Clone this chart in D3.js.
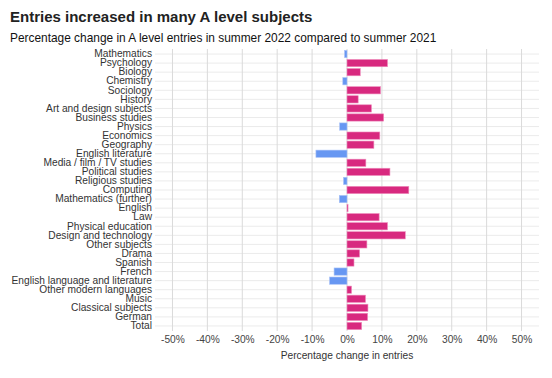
<!DOCTYPE html>
<html>
<head>
<meta charset="utf-8">
<script src="https://cdn.jsdelivr.net/npm/d3@7"></script>
<style>
  body { margin: 0; background: #fff; }
  text { font-family: "Liberation Sans", Arial, sans-serif; }
</style>
</head>
<body>
<div id="chart"></div>
<script>
const width = 552;
const height = 378;

// subjects, top to bottom
const subjects = [
  "Mathematics", "Psychology", "Biology", "Chemistry", "Sociology", "History",
  "Art and design subjects", "Business studies", "Physics", "Economics",
  "Geography", "English literature", "Media / film / TV studies",
  "Political studies", "Religious studies", "Computing",
  "Mathematics (further)", "English", "Law", "Physical education",
  "Design and technology", "Other subjects", "Drama", "Spanish", "French",
  "English language and literature", "Other modern languages", "Music",
  "Classical subjects", "German", "Total"
];

// percentage change 2021 -> 2022
const change = [
  -0.7, 11.6, 3.8, -1.2, 9.6, 3.2,
  7.0, 10.5, -2.1, 9.4,
  7.7, -8.9, 5.4,
  12.3, -1.0, 17.7,
  -2.2, 0.3, 9.2, 11.6,
  16.7, 5.7, 3.6, 2.0, -3.7,
  -5.0, 1.3, 5.3,
  6.0, 5.9, 4.2
];

const tickValues = [-50, -40, -30, -20, -10, 0, 10, 20, 30, 40, 50];

const data = subjects.map((s, i) => ({ subject: s, value: change[i] }));

const svg = d3
  .select("#chart")
  .append("svg")
  .attr("width", width)
  .attr("height", height);

const panel = { left: 155, right: 539, top: 49, bottom: 331 };

const x = d3.scaleLinear().domain([-55, 55]).range([panel.left, panel.right]);
const y = d3
  .scaleBand()
  .domain(subjects)
  .range([panel.top + 0.5, panel.bottom - 0.5])
  .paddingInner(0.2)
  .paddingOuter(0.1);

// title + subtitle
svg.append("text")
  .attr("x", 10).attr("y", 22)
  .style("font-size", "15px").style("font-weight", "bold")
  .style("fill", "#222")
  .text("Entries increased in many A level subjects");

svg.append("text")
  .attr("x", 10).attr("y", 42)
  .style("font-size", "11.9px")
  .style("fill", "#111")
  .text("Percentage change in A level entries in summer 2022 compared to summer 2021");

// grid
const grid = svg.append("g");
grid.selectAll(".hgrid")
  .data(subjects)
  .join("line")
  .attr("x1", panel.left).attr("x2", panel.right)
  .attr("y1", (d) => y(d) + y.bandwidth() / 2)
  .attr("y2", (d) => y(d) + y.bandwidth() / 2)
  .attr("stroke", "#ebebeb").attr("stroke-width", 1);

grid.selectAll(".vgrid")
  .data(tickValues)
  .join("line")
  .attr("x1", (d) => x(d)).attr("x2", (d) => x(d))
  .attr("y1", panel.top).attr("y2", panel.bottom)
  .attr("stroke", "#dadada").attr("stroke-width", 1);

// bars
svg.append("g")
  .selectAll("rect")
  .data(data)
  .join("rect")
  .attr("x", (d) => x(Math.min(0, d.value)))
  .attr("width", (d) => Math.abs(x(d.value) - x(0)))
  .attr("y", (d) => y(d.subject))
  .attr("height", y.bandwidth())
  .attr("fill", (d) => (d.value < 0 ? "#6797f2" : "#d8297f"))
  .attr("stroke", (d) => (d.value < 0 ? "#a9c2f7" : "#ee8cbc"))
  .attr("stroke-width", 0.6);

// category labels
const yAxis = svg.append("g")
  .attr("transform", `translate(${panel.left},0)`)
  .call(d3.axisLeft(y).tickSize(0).tickPadding(3));
yAxis.select(".domain").remove();
yAxis.selectAll("text")
  .style("font-size", "10.2px")
  .style("fill", "#333");

// x axis
const xAxis = svg.append("g")
  .attr("transform", `translate(0,${panel.bottom})`)
  .call(d3.axisBottom(x).tickValues(tickValues).tickSize(0).tickPadding(5)
    .tickFormat((d) => d + "%"));
xAxis.select(".domain").remove();
xAxis.selectAll("text")
  .style("font-size", "10.2px")
  .style("fill", "#444");

svg.append("text")
  .attr("x", x(0)).attr("y", 359)
  .attr("text-anchor", "middle")
  .style("font-size", "10.2px")
  .style("fill", "#333")
  .text("Percentage change in entries");
</script>
</body>
</html>
